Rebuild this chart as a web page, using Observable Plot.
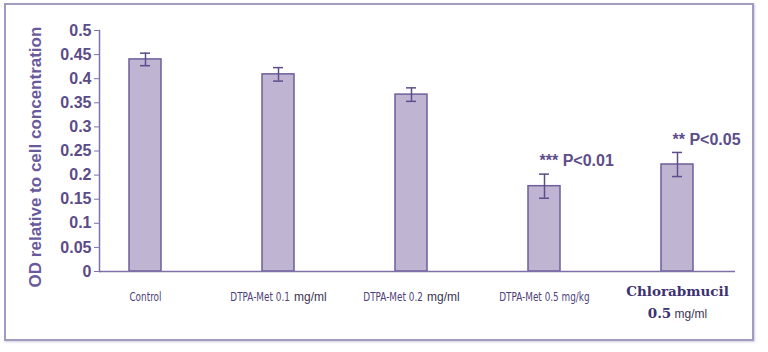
<!DOCTYPE html>
<html><head><meta charset="utf-8">
<script src="https://cdn.jsdelivr.net/npm/d3@7"></script>
<script src="https://cdn.jsdelivr.net/npm/@observablehq/plot@0.6"></script>
<style>
html,body{margin:0;padding:0;background:#fff;width:768px;height:352px;overflow:hidden}
#wrap{position:relative;width:768px;height:352px}
#border{position:absolute;left:4px;top:3px;width:746px;height:334px;border:2px solid #a39bbf;box-shadow:1px 1px 2px rgba(120,110,160,0.35);pointer-events:none}
#chart{position:absolute;left:0;top:0}
</style></head><body><div id="wrap"><div id="border"></div><div id="chart"></div></div>
<script>
const categories = ["Control", "DTPA-Met 0.1 mg/ml", "DTPA-Met 0.2 mg/ml", "DTPA-Met 0.5 mg/kg", "Chlorabmucil 0.5 mg/ml"];
const values = [0.440, 0.409, 0.367, 0.177, 0.222];
const errors = [0.013, 0.014, 0.014, 0.025, 0.025];
const annotations = ["", "", "", "*** P<0.01", "** P<0.05"];
const yTicks = [0, 0.05, 0.1, 0.15, 0.2, 0.25, 0.3, 0.35, 0.4, 0.45, 0.5];
const yTitle = "OD relative to cell concentration";

const data = categories.map((c, i) => ({cat: c, value: values[i], err: errors[i], note: annotations[i]}));

const purple = "#6e5e9a";
const textPurple = "#5b4c86";

const plot = Plot.plot({
  width: 768, height: 352,
  marginLeft: 99, marginRight: 33, marginTop: 30, marginBottom: 81,
  style: {background: "transparent", overflow: "visible", fontFamily: "Liberation Sans, Arial, sans-serif"},
  x: {domain: categories, paddingInner: 0.76, paddingOuter: 0.264, align: 0.423},
  y: {domain: [0, 0.5]},
  marks: [
    Plot.barY(data, {x: "cat", y: "value", fill: "#bfb5d3", stroke: purple, strokeWidth: 1.5}),
    Plot.ruleX(data, {x: "cat", y1: d => d.value - d.err, y2: d => d.value + d.err, stroke: "#5e4d8a", strokeWidth: 1.5}),
    Plot.tickY(data, {x: "cat", y: d => d.value + d.err, stroke: "#5e4d8a", strokeWidth: 1.5, insetLeft: 11, insetRight: 11}),
    Plot.tickY(data, {x: "cat", y: d => d.value - d.err, stroke: "#5e4d8a", strokeWidth: 1.5, insetLeft: 11, insetRight: 11}),
    Plot.ruleY([0], {stroke: "#7f70a8", strokeWidth: 1.5}),
    Plot.frame({anchor: "left", stroke: "#7f70a8", strokeWidth: 1.5}),
    Plot.axisY({ticks: yTicks, tickSize: 5, tickPadding: 3, label: null, stroke: "#7f70a8",
      tickFormat: d => String(d), fill: textPurple, fontSize: 16, fontWeight: "bold"}),
    Plot.axisX({tickSize: 0, tickPadding: 20, label: null, fill: textPurple, fontSize: 12}),
    Plot.text(data.filter(d => d.note), {x: "cat", y: d => d.value + d.err, text: "note",
      textAnchor: "start", dx: -5, dy: -13, fontWeight: "bold", fontSize: 16, fill: "#5d4e8a"}),
    Plot.text([yTitle], {frameAnchor: "left", text: d => d, rotate: -90, dx: -64, dy: 6, textAnchor: "middle",
      fontWeight: "bold", fontSize: 17, fill: "#6a5a9c"})
  ]
});

plot.querySelectorAll('g[aria-label="y-axis tick label"] text').forEach(t => {
  t.setAttribute("font-size", "16"); t.setAttribute("font-weight", "bold"); t.setAttribute("fill", textPurple);
});
document.getElementById("chart").appendChild(plot);

const NS = "http://www.w3.org/2000/svg";
function el(parent, tag, txt, attrs) {
  const s = document.createElementNS(NS, tag);
  if (txt != null) s.textContent = txt;
  for (const k in attrs) s.setAttribute(k, attrs[k]);
  parent.appendChild(s);
  return s;
}
const narrow = "'Liberation Sans Narrow', 'DejaVu Sans Condensed', 'Arial Narrow', 'Liberation Sans', sans-serif";
const sans = "'Liberation Sans', Arial, sans-serif";
const serif = "'DejaVu Serif', 'Liberation Serif', serif";
const K = 0.76; // horizontal squeeze to imitate the condensed label font

plot.querySelectorAll('g[aria-label="x-axis tick label"] text').forEach(t => {
  const label = t.textContent;
  const g = document.createElementNS(NS, "g");
  g.setAttribute("transform", t.getAttribute("transform") || "");
  t.parentNode.insertBefore(g, t);
  t.remove();
  if (label.startsWith("Chlorabmucil")) {
    const rest = label.replace("Chlorabmucil ", "").split(" ");
    const txt = el(g, "text", null, {"text-anchor": "middle", y: "9.5"});
    el(txt, "tspan", "Chlorabmucil", {"font-family": serif, "font-weight": "bold", "font-size": "13.5", fill: "#3d3270", dy: "-0.35em"});
    el(txt, "tspan", rest[0], {x: "0", dy: "1.6em", "font-family": serif, "font-weight": "bold", "font-size": "13.5", fill: "#3d3270"});
    el(txt, "tspan", " " + rest.slice(1).join(" "), {"font-family": sans, "font-size": "12", fill: "#3b3550"});
    return;
  }
  const idx = label.indexOf(" mg/ml");
  const partA = idx < 0 ? label : label.slice(0, idx);
  const partB = idx < 0 ? null : label.slice(idx + 1);
  const a = el(g, "text", partA, {"font-family": narrow, "font-size": "13", fill: "#4e3f7a", y: "9.5", "text-anchor": "start"});
  const b = partB ? el(g, "text", partB, {"font-family": sans, "font-size": "12", fill: "#3b3550", y: "9.5", "text-anchor": "start"}) : null;
  const gap = b ? 4 : 0;
  const wA = a.getComputedTextLength() * K;
  const wB = b ? b.getComputedTextLength() : 0;
  const x0 = -(wA + gap + wB) / 2;
  a.setAttribute("transform", `translate(${x0.toFixed(1)},0) scale(${K},1)`);
  if (b) b.setAttribute("x", (x0 + wA + gap).toFixed(1));
});
</script></body></html>
